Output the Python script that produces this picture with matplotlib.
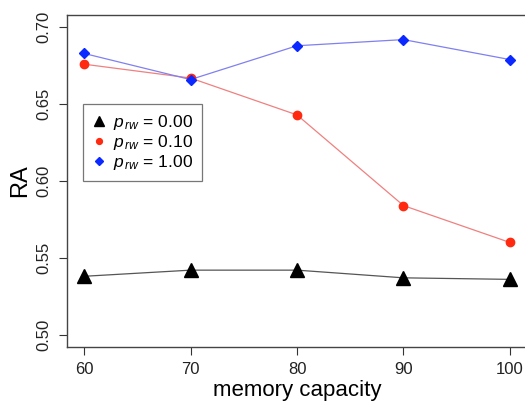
import matplotlib
matplotlib.use("Agg")
import matplotlib.pyplot as plt

plt.rcParams['font.family'] = ['Liberation Sans', 'DejaVu Sans']
plt.rcParams['mathtext.fontset'] = 'custom'
plt.rcParams['mathtext.it'] = 'Liberation Sans:italic'
plt.rcParams['mathtext.rm'] = 'Liberation Sans'

# data
capacity = [60, 70, 80, 90, 100]
ra_p000 = [0.538, 0.542, 0.542, 0.537, 0.536]
ra_p010 = [0.676, 0.667, 0.643, 0.584, 0.560]
ra_p100 = [0.683, 0.666, 0.688, 0.692, 0.679]
labels = ["$p_{\\,rw}$ = 0.00", "$p_{\\,rw}$ = 0.10", "$p_{\\,rw}$ = 1.00"]

fig = plt.figure(figsize=(5.25, 4.01), dpi=100)
ax = fig.add_axes([67 / 525, 54 / 401, 460 / 525, 332 / 401])

ax.plot(capacity, ra_p000, color="#555555", lw=0.9, zorder=2)
ax.plot(capacity, ra_p010, color="#f08080", lw=0.9, zorder=2)
ax.plot(capacity, ra_p100, color="#8080f0", lw=0.9, zorder=2)

h0, = ax.plot(capacity, ra_p000, ls="none", marker="^", ms=10, color="black", label=labels[0], zorder=3)
h1, = ax.plot(capacity, ra_p010, ls="none", marker="o", ms=6, color="#ff2a10", label=labels[1], zorder=3)
h2, = ax.plot(capacity, ra_p100, ls="none", marker="D", ms=5.5, color="#0a28ff", label=labels[2], zorder=3)

ax.set_xlim(58.4, 101.6)
ax.set_ylim(0.492, 0.708)
ax.set_xticks(capacity)
ax.set_yticks([0.50, 0.55, 0.60, 0.65, 0.70])
ax.set_yticklabels(["0.50", "0.55", "0.60", "0.65", "0.70"], rotation=90, va="center")
ax.tick_params(direction="out", length=6, width=0.8, colors="#333333", labelsize=12,
               labelcolor="#222222", pad=5)
for s in ax.spines.values():
    s.set_color("#444444")
    s.set_linewidth(1.0)

ax.set_xlabel("memory capacity", fontsize=16, labelpad=2)
ax.set_ylabel("RA", fontsize=17, labelpad=4)

leg = ax.legend(handles=[h0, h1, h2], loc="upper left", bbox_to_anchor=(0.035, 0.732),
                fontsize=12.5, frameon=True, fancybox=False, edgecolor="#555555",
                markerscale=0.7, handlelength=0.8, handletextpad=0.45, borderpad=0.5,
                labelspacing=0.08, borderaxespad=0)
leg.get_frame().set_linewidth(0.9)

fig.savefig("out.png", dpi=100)
